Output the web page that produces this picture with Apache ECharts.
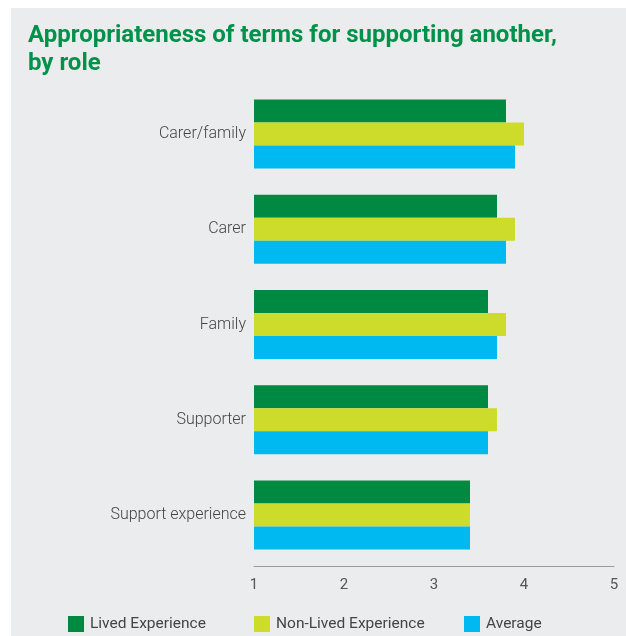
<!DOCTYPE html>
<html>
<head>
<meta charset="utf-8">
<script src="https://cdn.jsdelivr.net/npm/echarts@6/dist/echarts.min.js"></script>
<style>
  html, body { margin: 0; padding: 0; background: #ffffff; }
  #chart { width: 626px; height: 636px; }
</style>
</head>
<body>
<div id="chart"></div>
<script>
// Roles rated, top to bottom
const roles = ['Carer/family', 'Carer', 'Family', 'Supporter', 'Support experience'];

// Mean appropriateness rating (1–5) per respondent group
const livedExperience = [3.8, 3.7, 3.6, 3.6, 3.4];
const nonLivedExperience = [4.0, 3.9, 3.8, 3.7, 3.4];
const average = [3.9, 3.8, 3.7, 3.6, 3.4];

const seriesNames = ['Lived Experience', 'Non-Lived Experience', 'Average'];
const seriesColors = ['#008a41', '#cddc2b', '#00b9f1'];
const seriesValues = [livedExperience, nonLivedExperience, average];

const titleLines = ['Appropriateness of terms for supporting another,', 'by role'];

const chart = echarts.init(document.getElementById('chart'), null, { renderer: 'canvas' });

const font = 'Roboto, "Noto Sans", sans-serif';

const legendLefts = [68, 254, 464];

chart.setOption({
  backgroundColor: '#ffffff',
  animation: false,
  graphic: [
    {
      type: 'rect',
      left: 11, top: 8,
      shape: { width: 615, height: 628 },
      style: { fill: '#ebecee' },
      z: -10
    }
  ],
  title: {
    text: titleLines.join('\n'),
    left: 23,
    top: 17,
    textStyle: {
      fontFamily: font,
      fontSize: 24,
      fontWeight: 'bold',
      color: '#00924a',
      lineHeight: 28
    }
  },
  legend: seriesNames.map((name, i) => ({
    data: [name],
    left: legendLefts[i],
    top: 616,
    padding: 0,
    itemWidth: 16,
    itemHeight: 16,
    itemGap: 6,
    icon: 'rect',
    textStyle: { fontFamily: font, fontSize: 15.5, color: '#444444', padding: [0, 0, 0, 1] }
  })),
  grid: {
    left: 254,
    right: 12,
    top: 86.5,
    bottom: 73.5,
    containLabel: false
  },
  xAxis: {
    type: 'value',
    min: 1,
    max: 5,
    interval: 1,
    offset: 3.5,
    axisLine: { show: true, lineStyle: { color: '#9a9a9a', width: 1 } },
    axisTick: { show: false },
    splitLine: { show: false },
    axisLabel: {
      fontFamily: font,
      fontSize: 15,
      color: '#555555',
      margin: 12
    }
  },
  yAxis: {
    type: 'category',
    data: roles,
    inverse: true,
    axisLine: { show: false },
    axisTick: { show: false },
    axisLabel: {
      fontFamily: font,
      fontSize: 16,
      fontWeight: 300,
      color: '#444444',
      margin: 8
    }
  },
  series: seriesNames.map((name, i) => ({
    name: name,
    type: 'bar',
    data: seriesValues[i],
    barWidth: 23,
    barGap: '0%',
    itemStyle: { color: seriesColors[i] }
  }))
});
</script>
</body>
</html>
